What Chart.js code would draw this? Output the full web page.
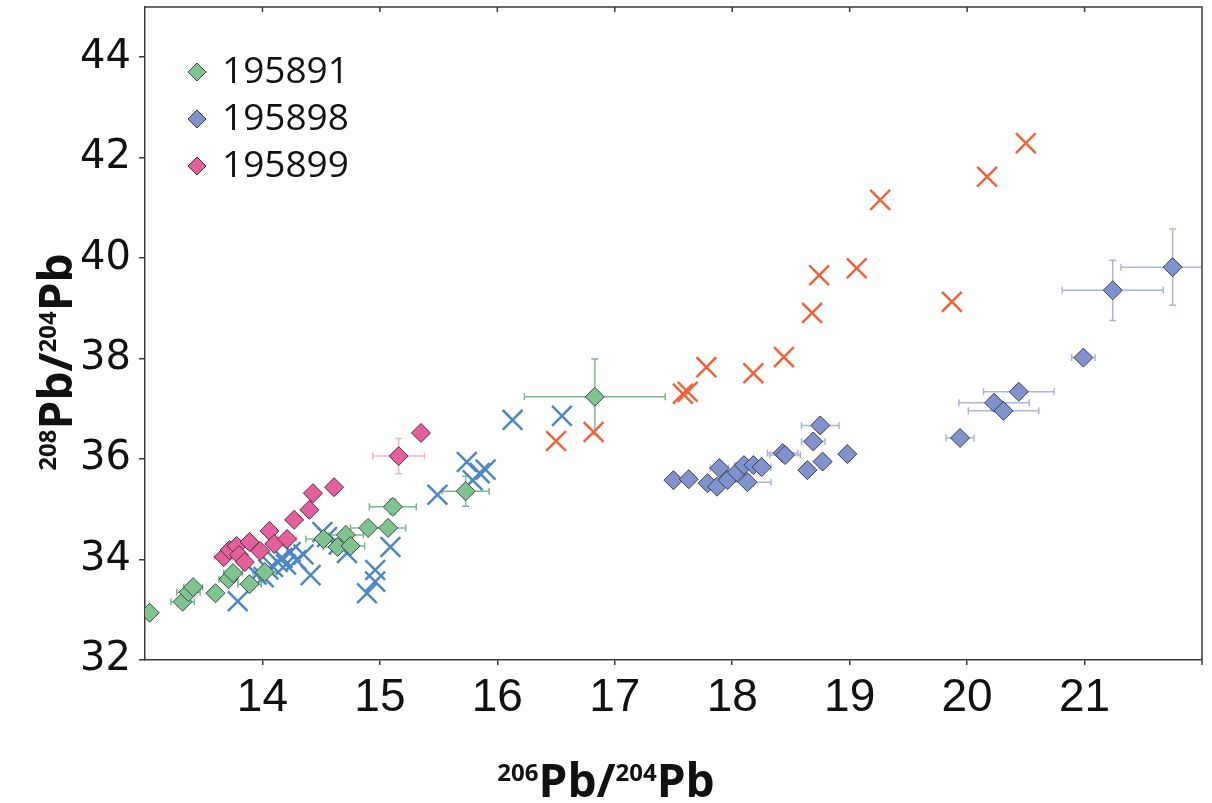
<!DOCTYPE html>
<html><head><meta charset="utf-8">
<script src="https://cdn.jsdelivr.net/npm/chart.js@4"></script>
<style>html,body{margin:0;padding:0;background:#fff}</style>
</head><body>
<canvas id="c" width="1212" height="803"></canvas>
<script>
// ---- Data ----
const xTickValues = [14,15,16,17,18,19,20,21];
const yTickValues = [32,34,36,38,40,42,44];

const legendLabels = ['195891','195898','195899'];

// 195891 (green diamonds)
const g891X    = [13.04,13.32,13.37,13.41,13.60,13.71,13.75,13.89,14.02,14.52,14.64,14.71,14.75,14.90,15.07,15.11,15.73,16.83];
const g891Y    = [32.94,33.16,33.35,33.45,33.33,33.61,33.73,33.51,33.75,34.41,34.25,34.49,34.27,34.63,34.63,35.05,35.36,37.24];
const g891XErr = [0,0.10,0.10,0.08,0.05,0.08,0.08,0.10,0.10,0.15,0.12,0.15,0.12,0.15,0.15,0.20,0.20,0.60];
const g891YErr = [0,0.05,0.05,0.05,0.05,0.10,0.08,0.08,0.08,0.10,0.10,0.10,0.10,0.10,0.10,0.15,0.30,0.75];

// 195898 (blue diamonds)
const g898X    = [17.50,17.63,17.79,17.87,17.89,17.96,18.04,18.10,18.13,18.18,18.25,18.43,18.45,18.64,18.69,18.75,18.77,18.98,19.94,20.23,20.31,20.44,20.99,21.24,21.75];
const g898Y    = [35.58,35.60,35.52,35.45,35.82,35.58,35.74,35.88,35.54,35.88,35.84,36.12,36.08,35.78,36.35,36.67,35.95,36.10,36.42,37.12,36.96,37.34,38.02,39.36,39.82];
const g898XErr = [0.05,0.05,0.05,0.05,0.08,0.05,0.06,0.08,0.20,0.08,0.08,0.13,0.13,0.05,0.10,0.16,0.05,0.05,0.12,0.30,0.30,0.30,0.10,0.43,0.44];
const g898YErr = [0.05,0.05,0.05,0.05,0.05,0.05,0.05,0.05,0.05,0.05,0.05,0.10,0.10,0.05,0.05,0.10,0.05,0.05,0.05,0.10,0.10,0.10,0.05,0.60,0.76];

// 195899 (pink diamonds)
const g899X    = [13.67,13.72,13.78,13.80,13.85,13.89,13.98,14.06,14.10,14.21,14.27,14.40,14.43,14.61,15.16,15.35];
const g899Y    = [34.05,34.19,34.27,34.09,33.95,34.35,34.17,34.57,34.31,34.41,34.79,34.99,35.32,35.44,36.06,36.52];
const g899XErr = [0.08,0.05,0.05,0.05,0.05,0.05,0.05,0.05,0.05,0.08,0.05,0.05,0.05,0.05,0.22,0.05];
const g899YErr = [0.05,0.05,0.05,0.05,0.05,0.05,0.05,0.05,0.05,0.05,0.05,0.05,0.05,0.05,0.35,0.05];

// orange crosses
const orangeX = [16.50,16.82,17.58,17.62,17.78,18.18,18.44,18.68,18.74,19.06,19.26,19.87,20.17,20.50];
const orangeY = [36.36,36.54,37.30,37.34,37.83,37.71,38.03,38.91,39.66,39.80,41.16,39.13,41.62,42.29];

// blue crosses
const blueX = [13.79,14.01,14.09,14.17,14.24,14.29,14.41,14.51,14.55,14.72,14.89,14.96,14.96,15.09,15.49,15.74,15.79,15.85,15.90,16.13,16.55,14.05,14.13,14.20,14.35,13.95,14.65];
const blueY = [33.17,33.65,33.85,34.03,34.15,33.99,33.69,34.55,34.45,34.13,33.33,33.56,33.79,34.25,35.29,35.94,35.58,35.72,35.79,36.78,36.86,33.80,33.95,33.90,34.10,33.70,34.30];

const xTitleParts = [['206',true],['Pb',false],['/',false],['204',true],['Pb',false]];
const yTitleParts = [['208',true],['Pb',false],['/',false],['204',true],['Pb',false]];

const zip = (xs, ys) => xs.map((x, i) => ({x, y: ys[i]}));

// ---- Plugins ----
const errorBars = {
  id: 'errorBars',
  beforeDatasetsDraw(chart) {
    const {ctx, chartArea: a, scales: {x: xs, y: ys}} = chart;
    ctx.save();
    ctx.beginPath();
    ctx.rect(a.left, a.top, a.right - a.left, a.bottom - a.top);
    ctx.clip();
    chart.data.datasets.forEach((ds) => {
      if (!ds.errX) return;
      ctx.strokeStyle = ds.errColor;
      ctx.lineWidth = 1.5;
      ds.data.forEach((p, i) => {
        const ex = ds.errX[i] || 0, ey = ds.errY[i] || 0;
        const cx = xs.getPixelForValue(p.x), cy = ys.getPixelForValue(p.y);
        const cap = 3.5;
        ctx.beginPath();
        if (ex > 0) {
          const x1 = xs.getPixelForValue(p.x - ex), x2 = xs.getPixelForValue(p.x + ex);
          ctx.moveTo(x1, cy); ctx.lineTo(x2, cy);
          ctx.moveTo(x1, cy - cap); ctx.lineTo(x1, cy + cap);
          ctx.moveTo(x2, cy - cap); ctx.lineTo(x2, cy + cap);
        }
        if (ey > 0) {
          const y1 = ys.getPixelForValue(p.y - ey), y2 = ys.getPixelForValue(p.y + ey);
          ctx.moveTo(cx, y1); ctx.lineTo(cx, y2);
          ctx.moveTo(cx - cap, y1); ctx.lineTo(cx + cap, y1);
          ctx.moveTo(cx - cap, y2); ctx.lineTo(cx + cap, y2);
        }
        ctx.stroke();
      });
    });
    ctx.restore();
  }
};

function drawParts(ctx, parts, big, small, raise) {
  let w = 0;
  parts.forEach(([t, sup]) => { ctx.font = sup ? small : big; w += ctx.measureText(t).width; });
  let x = -w / 2;
  parts.forEach(([t, sup]) => {
    ctx.font = sup ? small : big;
    ctx.fillText(t, x, sup ? -raise : 0);
    x += ctx.measureText(t).width;
  });
}

const frameAndTitles = {
  id: 'frameAndTitles',
  afterDraw(chart) {
    const {ctx, chartArea: a, scales: {x: xs}} = chart;
    ctx.save();
    ctx.strokeStyle = '#3a3a3a';
    ctx.lineWidth = 1.5;
    ctx.beginPath();
    ctx.moveTo(a.left, a.top); ctx.lineTo(a.right, a.top); ctx.lineTo(a.right, a.bottom + 5);
    xTickValues.forEach(v => {
      const px = xs.getPixelForValue(v);
      ctx.moveTo(px, a.top); ctx.lineTo(px, a.top + 5);
    });
    ctx.stroke();

    ctx.fillStyle = '#111';
    ctx.textBaseline = 'alphabetic';
    ctx.textAlign = 'left';
    const big = 'bold 46px "Open Sans"', small = 'bold 24px "Open Sans"';
    ctx.save();
    ctx.translate(606, 797);
    drawParts(ctx, xTitleParts, big, small, 16);
    ctx.restore();
    ctx.save();
    ctx.translate(72, 362);
    ctx.rotate(-Math.PI / 2);
    drawParts(ctx, yTitleParts, big, small, 16);
    ctx.restore();

    const legendDs = chart.data.datasets.filter(d => d.inLegend);
    legendDs.forEach((d, i) => {
      const cy = 72 + i * 47, cx = 197, r = 9;
      ctx.beginPath();
      ctx.moveTo(cx - r, cy); ctx.lineTo(cx, cy - r); ctx.lineTo(cx + r, cy); ctx.lineTo(cx, cy + r); ctx.closePath();
      ctx.fillStyle = d.backgroundColor; ctx.fill();
      ctx.lineWidth = 1; ctx.strokeStyle = d.borderColor; ctx.stroke();
      ctx.fillStyle = '#111';
      ctx.font = '37px "Open Sans"';
      ctx.textBaseline = 'middle';
      ctx.fillText(d.label, 222, cy);
    });
    ctx.restore();
  }
};

// ---- Chart ----
new Chart(document.getElementById('c'), {
  type: 'scatter',
  data: {
    datasets: [
      {label: legendLabels[0], data: zip(g891X, g891Y), errX: g891XErr, errY: g891YErr, errColor: '#78bd88',
       pointStyle: 'rectRot', pointRadius: 9.5, backgroundColor: '#7fc48f', borderColor: '#3f4a42', borderWidth: 1, order: 3, inLegend: true},
      {label: legendLabels[1], data: zip(g898X, g898Y), errX: g898XErr, errY: g898YErr, errColor: '#aab6dc',
       pointStyle: 'rectRot', pointRadius: 9.5, backgroundColor: '#8093cd', borderColor: '#363d58', borderWidth: 1, order: 2, inLegend: true},
      {label: legendLabels[2], data: zip(g899X, g899Y), errX: g899XErr, errY: g899YErr, errColor: '#f1b3ca',
       pointStyle: 'rectRot', pointRadius: 9.5, backgroundColor: '#e4609c', borderColor: '#5a2c40', borderWidth: 1, order: 1, inLegend: true},
      {label: 'orange', data: zip(orangeX, orangeY), pointStyle: 'crossRot', pointRadius: 14,
       borderColor: '#f0643a', backgroundColor: '#f0643a', borderWidth: 2.5, order: 10},
      {label: 'blue', data: zip(blueX, blueY), pointStyle: 'crossRot', pointRadius: 14,
       borderColor: '#4d87c7', backgroundColor: '#4d87c7', borderWidth: 2.5, order: 11}
    ]
  },
  options: {
    responsive: false,
    animation: false,
    layout: {autoPadding: false, padding: {top: 7, right: 10, left: 0, bottom: 0}},
    plugins: {legend: {display: false}, tooltip: {enabled: false}},
    scales: {
      x: {
        type: 'linear', min: 13, max: 22,
        afterBuildTicks: s => { s.ticks = xTickValues.map(v => ({value: v})); },
        afterFit: s => { s.height = 143; s.paddingLeft = 0; s.paddingRight = 0; },
        border: {display: true, color: '#3a3a3a', width: 1.5},
        grid: {drawOnChartArea: false, drawTicks: true, tickLength: 5, color: '#3a3a3a', lineWidth: 1.5},
        ticks: {color: '#111', padding: 6, maxRotation: 0, font: {family: '"Liberation Sans Narrow", "Liberation Sans", sans-serif', size: 46}}
      },
      y: {
        type: 'linear', min: 32, max: 45,
        afterBuildTicks: s => { s.ticks = yTickValues.map(v => ({value: v})); },
        afterFit: s => { s.width = 145; s.paddingTop = 0; s.paddingBottom = 0; },
        border: {display: true, color: '#3a3a3a', width: 1.5},
        grid: {drawOnChartArea: false, drawTicks: true, tickLength: 6, color: '#3a3a3a', lineWidth: 1.5},
        ticks: {color: '#111', padding: 8, font: {family: '"DejaVu Sans", sans-serif', size: 40}}
      }
    }
  },
  plugins: [errorBars, frameAndTitles]
});
</script>
</body></html>
